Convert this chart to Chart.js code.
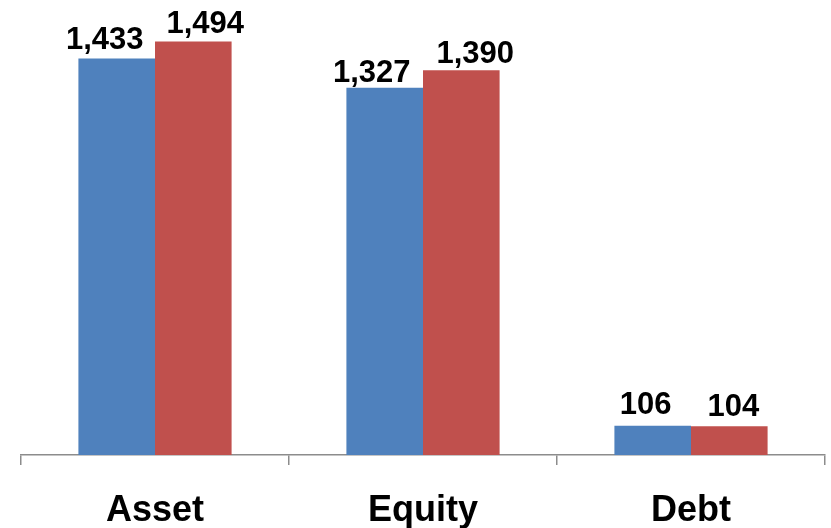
<!DOCTYPE html>
<html>
<head>
<meta charset="utf-8">
<script src="https://cdn.jsdelivr.net/npm/chart.js@4/dist/chart.umd.min.js"></script>
<style>
  html, body { margin: 0; padding: 0; background: #fff; }
  #wrap { width: 831px; height: 528px; position: relative; }
</style>
</head>
<body>
<div id="wrap"><canvas id="c"></canvas></div>
<script>
const categories = ['Asset', 'Equity', 'Debt'];
const seriesA = [1433, 1327, 106];
const seriesB = [1494, 1390, 104];
const valueLabelsA = ['1,433', '1,327', '106'];
const valueLabelsB = ['1,494', '1,390', '104'];

// label nudges (style only), per dataset per category: [dx, gap above bar]
const labelStyle = [
  [[-12, 9], [-13, 6], [-7, 12]],
  [[12, 9], [14, 7], [4, 10]]
];

const valueLabelPlugin = {
  id: 'valueLabels',
  afterDatasetsDraw(chart) {
    const ctx = chart.ctx;
    ctx.save();
    ctx.font = 'bold 31px "Liberation Sans", Arial, sans-serif';
    ctx.fillStyle = '#000';
    ctx.textAlign = 'center';
    ctx.textBaseline = 'alphabetic';
    const texts = [valueLabelsA, valueLabelsB];
    chart.data.datasets.forEach((ds, di) => {
      const meta = chart.getDatasetMeta(di);
      meta.data.forEach((bar, i) => {
        const st = labelStyle[di][i];
        ctx.fillText(texts[di][i], bar.x + st[0], bar.y - st[1]);
      });
    });
    ctx.restore();
  }
};

new Chart(document.getElementById('c'), {
  type: 'bar',
  data: {
    labels: categories,
    datasets: [
      { data: seriesA, backgroundColor: '#4F81BD', borderWidth: 0 },
      { data: seriesB, backgroundColor: '#C0504D', borderWidth: 0 }
    ]
  },
  options: {
    responsive: true,
    maintainAspectRatio: false,
    animation: false,
    layout: { padding: { left: 21, right: 6, top: 0, bottom: 0 } },
    plugins: { legend: { display: false }, tooltip: { enabled: false } },
    datasets: { bar: { categoryPercentage: 0.5716, barPercentage: 1.0 } },
    scales: {
      y: { display: false, min: 0, max: 1644 },
      x: {
        offset: true,
        afterFit(scale) { scale.height = 73; },
        grid: { offset: true, drawOnChartArea: false, drawTicks: true, tickLength: 10, color: '#8c8c8c', lineWidth: 1.5 },
        border: { display: true, color: '#8c8c8c', width: 1.5 },
        ticks: { color: '#000', padding: 24, font: { family: '"Liberation Sans", Arial, sans-serif', size: 36, weight: 'bold' } }
      }
    }
  },
  plugins: [valueLabelPlugin]
});
</script>
</body>
</html>
